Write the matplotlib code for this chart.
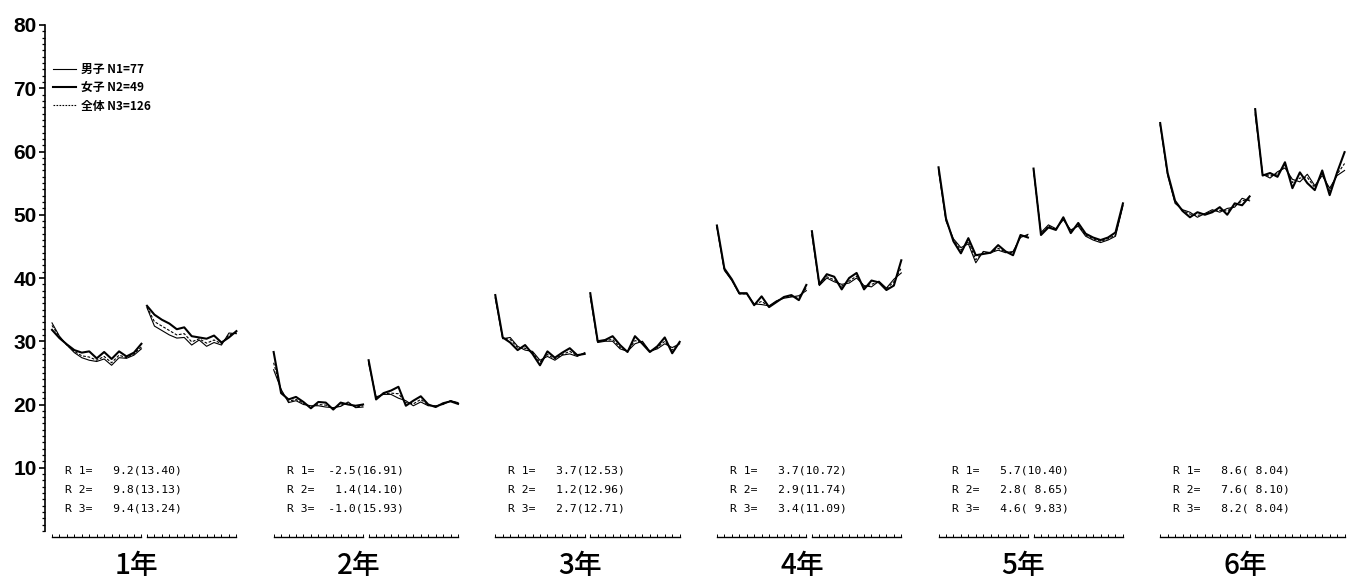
import matplotlib
matplotlib.use('Agg')
import matplotlib.pyplot as plt
from matplotlib.lines import Line2D
from matplotlib.ticker import MultipleLocator

# 学年ラベル
years = ['1年', '2年', '3年', '4年', '5年', '6年']

# 各学年 2 区間 (前半 A, 後半 B) x 13 点
boys = [
    [32.9, 30.8, 29.4, 28.2, 27.4, 27.0, 26.8, 27.2, 26.2, 27.4, 27.3, 27.8, 28.8],
    [35.3, 32.4, 31.7, 31.0, 30.5, 30.6, 29.4, 30.2, 29.2, 29.8, 29.4, 31.3, 31.2],
    [25.5, 22.4, 20.3, 20.6, 20.0, 19.8, 19.8, 19.6, 19.5, 19.7, 20.4, 19.5, 19.6],
    [26.5, 21.2, 21.6, 21.6, 21.0, 20.6, 19.8, 20.4, 19.8, 19.8, 20.0, 20.6, 20.3],
    [36.8, 30.4, 30.6, 29.2, 28.6, 28.4, 27.0, 27.6, 27.0, 27.8, 28.0, 27.6, 28.2],
    [37.0, 29.8, 30.0, 30.0, 28.8, 28.4, 29.6, 30.0, 28.4, 28.8, 29.6, 29.0, 29.6],
    [48.0, 41.2, 39.6, 37.5, 37.5, 35.9, 35.8, 35.6, 36.4, 36.8, 37.0, 37.2, 38.0],
    [46.8, 38.8, 40.0, 39.4, 39.0, 39.2, 40.0, 38.8, 38.6, 39.5, 38.4, 39.8, 40.8],
    [57.0, 49.0, 46.2, 44.8, 45.4, 42.4, 44.2, 44.0, 44.4, 44.0, 44.2, 46.4, 46.9],
    [57.0, 47.2, 48.4, 47.8, 49.2, 47.6, 48.2, 46.6, 46.0, 45.6, 46.0, 46.6, 51.4],
    [64.2, 56.2, 51.8, 50.8, 50.4, 49.6, 50.2, 50.8, 50.4, 51.0, 51.2, 52.6, 52.2],
    [65.8, 56.4, 55.8, 56.8, 57.4, 55.6, 55.2, 56.4, 54.6, 56.2, 54.2, 56.2, 57.0],
]
girls = [
    [31.8, 30.5, 29.5, 28.6, 28.2, 28.4, 27.3, 28.3, 27.2, 28.4, 27.6, 28.2, 29.6],
    [35.6, 34.2, 33.4, 32.8, 31.9, 32.2, 30.8, 30.6, 30.4, 30.9, 29.8, 30.6, 31.6],
    [28.3, 21.8, 20.8, 21.2, 20.4, 19.4, 20.4, 20.3, 19.2, 20.3, 20.0, 19.8, 20.0],
    [27.0, 20.8, 21.8, 22.2, 22.8, 19.8, 20.6, 21.3, 20.0, 19.6, 20.2, 20.5, 20.1],
    [37.3, 30.6, 29.8, 28.6, 29.4, 28.0, 26.2, 28.4, 27.4, 28.2, 28.9, 27.8, 28.0],
    [37.6, 30.0, 30.2, 30.8, 29.4, 28.3, 30.8, 29.6, 28.3, 29.2, 30.6, 28.1, 29.9],
    [48.3, 41.5, 39.8, 37.6, 37.6, 35.7, 37.1, 35.4, 36.2, 37.0, 37.3, 36.5, 38.9],
    [47.4, 39.0, 40.6, 40.2, 38.2, 40.0, 40.8, 38.2, 39.6, 39.3, 38.1, 38.8, 42.8],
    [57.5, 49.4, 45.8, 43.9, 46.3, 43.6, 43.8, 44.0, 45.2, 44.2, 43.6, 46.8, 46.4],
    [57.3, 46.8, 48.0, 47.6, 49.6, 47.1, 48.7, 47.0, 46.4, 46.0, 46.4, 47.2, 51.8],
    [64.5, 56.6, 52.2, 50.6, 49.6, 50.4, 50.0, 50.4, 51.2, 50.0, 51.8, 51.5, 52.9],
    [66.7, 56.2, 56.6, 56.0, 58.3, 54.2, 56.7, 55.0, 53.9, 57.0, 53.1, 56.7, 59.9],
]
total = [
    [32.5, 30.7, 29.4, 28.4, 27.7, 27.5, 27.0, 27.6, 26.6, 27.8, 27.4, 28.0, 29.1],
    [35.4, 33.1, 32.4, 31.7, 31.0, 31.2, 29.9, 30.4, 29.7, 30.2, 29.6, 31.0, 31.4],
    [26.6, 22.2, 20.5, 20.8, 20.2, 19.6, 20.0, 19.9, 19.4, 19.9, 20.2, 19.6, 19.8],
    [26.7, 21.0, 21.7, 21.8, 21.7, 20.3, 20.1, 20.8, 19.9, 19.7, 20.1, 20.6, 20.2],
    [37.0, 30.5, 30.3, 29.0, 28.9, 28.2, 26.7, 27.9, 27.2, 27.9, 28.4, 27.7, 28.1],
    [37.2, 29.9, 30.1, 30.3, 29.0, 28.4, 30.1, 29.8, 28.4, 29.0, 30.0, 28.6, 29.7],
    [48.1, 41.3, 39.7, 37.5, 37.5, 35.8, 36.3, 35.5, 36.3, 36.9, 37.1, 36.9, 38.4],
    [47.0, 38.9, 40.2, 39.7, 38.7, 39.5, 40.3, 38.6, 39.0, 39.4, 38.3, 39.4, 41.6],
    [57.2, 49.2, 46.0, 44.4, 45.8, 42.9, 44.0, 44.0, 44.7, 44.1, 44.0, 46.6, 46.7],
    [57.1, 47.0, 48.2, 47.7, 49.4, 47.4, 48.4, 46.8, 46.2, 45.8, 46.2, 46.8, 51.6],
    [64.3, 56.4, 52.0, 50.7, 50.1, 49.9, 50.1, 50.6, 50.7, 50.6, 51.4, 52.2, 52.5],
    [66.2, 56.3, 56.1, 56.5, 57.8, 55.1, 55.8, 55.9, 54.3, 56.5, 53.8, 56.4, 58.1],
]

# R 値 (平均, 標準偏差)  [R1, R2, R3]
r_mean = [[9.2, 9.8, 9.4], [-2.5, 1.4, -1.0], [3.7, 1.2, 2.7],
          [3.7, 2.9, 3.4], [5.7, 2.8, 4.6], [8.6, 7.6, 8.2]]
r_sd = [[13.40, 13.13, 13.24], [16.91, 14.10, 15.93], [12.53, 12.96, 12.71],
        [10.72, 11.74, 11.09], [10.40, 8.65, 9.83], [8.04, 8.10, 8.04]]

legend_labels = ['男子 N1=77', '女子 N2=49', '全体 N3=126']

YEAR_GAP = 29.75    # 学年ごとの横の間隔
SEG_GAP = 12.75     # 前半と後半の間隔
JP = ['Noto Sans CJK JP', 'DejaVu Sans']


def main():
    fig = plt.figure(figsize=(13.59, 5.86), dpi=100)
    ax = fig.add_axes([45 / 1359, 55 / 586, 1310 / 1359, 506 / 586])

    for k in range(len(years)):
        for s in range(2):
            idx = 2 * k + s
            x0 = k * YEAR_GAP + s * SEG_GAP
            xs = [x0 + i for i in range(len(boys[idx]))]
            ax.plot(xs, boys[idx], color='k', lw=0.8)
            ax.plot(xs, girls[idx], color='k', lw=1.5)
            ax.plot(xs, total[idx], color='k', lw=0.8, linestyle=(0, (2.5, 1.5)))
            # 下の小さい軸
            ax.plot([xs[0], xs[-1]], [-1.0, -1.0], color='k', lw=1.0, clip_on=False)
            ax.vlines(xs, -1.0, -0.5, color='k', lw=0.7, clip_on=False)

        x0 = k * YEAR_GAP
        for j in range(3):
            ax.text(x0 + 1.75, 9.6 - 3.0 * j,
                    'R %d=%6.1f(%5.2f)' % (j + 1, r_mean[k][j], r_sd[k][j]),
                    family='DejaVu Sans Mono', fontsize=8.2, va='center', ha='left')
        ax.text(x0 + 11.4, -5.4, years[k], family=JP, fontsize=20,
                fontweight='medium', ha='center', va='center', clip_on=False)

    ax.set_xlim(-0.94, 174.9)
    ax.set_ylim(0, 80)
    ax.set_yticks(range(10, 81, 10))
    ax.set_yticklabels([str(v) for v in range(10, 81, 10)],
                       fontsize=15, fontweight='bold', family='Liberation Sans')
    ax.yaxis.set_minor_locator(MultipleLocator(1))
    ax.tick_params(axis='y', which='major', length=4, width=1.2, pad=2)
    ax.tick_params(axis='y', which='minor', length=2.5, width=0.9)
    ax.set_xticks([])
    for sp in ['top', 'right', 'bottom']:
        ax.spines[sp].set_visible(False)
    ax.spines['left'].set_linewidth(1.2)

    handles = [Line2D([], [], color='k', lw=0.8),
               Line2D([], [], color='k', lw=1.5),
               Line2D([], [], color='k', lw=0.8, linestyle=(0, (1.5, 1.2)))]
    fig.legend(handles, legend_labels, loc='upper left',
               bbox_to_anchor=(53 / 1359, 1 - 63 / 586), frameon=False,
               borderpad=0, borderaxespad=0, handlelength=1.95,
               handletextpad=0.4, labelspacing=0.45,
               prop={'family': JP, 'size': 8.5, 'weight': 'bold'})

    fig.savefig('out.png', dpi=100)


if __name__ == '__main__':
    main()
